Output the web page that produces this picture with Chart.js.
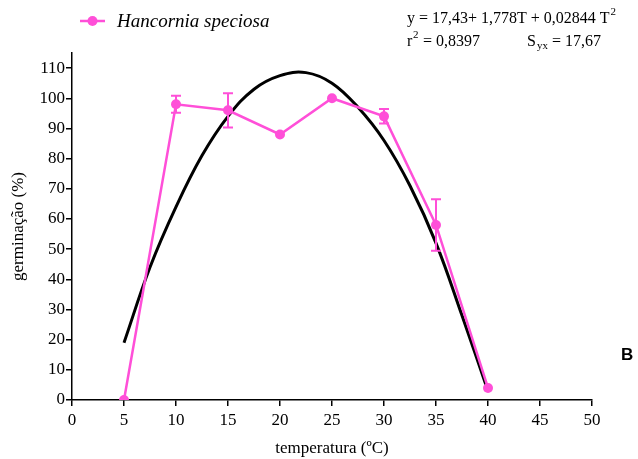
<!DOCTYPE html>
<html>
<head>
<meta charset="utf-8">
<script src="https://cdn.jsdelivr.net/npm/chart.js@4/dist/chart.umd.min.js"></script>
<style>
html,body{margin:0;padding:0;background:#fff;}
#wrap{position:relative;width:638px;height:459px;}
</style>
</head>
<body>
<div id="wrap"><canvas id="c" width="638" height="459"></canvas></div>
<script>
// Observed data
const temperatures = [5, 10, 15, 20, 25, 30, 35, 40];
const germination = [0, 98, 96, 88, 100, 94, 58, 4];
const errors = [0, 2.8, 5.7, 0, 0, 2.4, 8.5, 0];
// Fitted curve
const curveT = [5, 7.5, 10, 12.5, 15, 17.5, 20, 22.5, 25, 27.5, 30, 32.5, 35, 37.5, 40];
const curveY = [19, 44, 64, 81, 94, 103, 107.5, 108.5, 105, 97, 86, 71, 52, 28, 3];
const xTicks = [0, 5, 10, 15, 20, 25, 30, 35, 40, 45, 50];
const yTicks = [0, 10, 20, 30, 40, 50, 60, 70, 80, 90, 100, 110];

const PINK = '#ff4fd8';
const SERIF = '"Liberation Serif", "Times New Roman", serif';

const overlay = {
  id: 'overlay',
  afterDatasetsDraw(chart) {
    const ctx = chart.ctx;
    const xs = chart.scales.x, ys = chart.scales.y;
    ctx.save();
    ctx.strokeStyle = PINK;
    ctx.lineWidth = 2;
    temperatures.forEach((t, i) => {
      const e = errors[i];
      if (!e) return;
      const px = xs.getPixelForValue(t);
      const top = ys.getPixelForValue(germination[i] + e);
      const bot = ys.getPixelForValue(germination[i] - e);
      ctx.beginPath();
      ctx.moveTo(px, top); ctx.lineTo(px, bot);
      ctx.moveTo(px - 5, top); ctx.lineTo(px + 5, top);
      ctx.moveTo(px - 5, bot); ctx.lineTo(px + 5, bot);
      ctx.stroke();
    });
    ctx.restore();
  },
  afterDraw(chart) {
    const ctx = chart.ctx;
    ctx.save();
    // legend
    ctx.strokeStyle = PINK; ctx.lineWidth = 2.5;
    ctx.beginPath(); ctx.moveTo(80, 21); ctx.lineTo(105, 21); ctx.stroke();
    ctx.fillStyle = PINK;
    ctx.beginPath(); ctx.arc(92.5, 21, 5, 0, Math.PI * 2); ctx.fill();
    ctx.fillStyle = '#000';
    ctx.font = 'italic 19px ' + SERIF;
    ctx.textBaseline = 'middle';
    ctx.textAlign = 'left';
    ctx.fillText('Hancornia speciosa', 117, 22);
    // equation
    const eq = 'y = 17,43+ 1,778T + 0,02844 T';
    ctx.font = '16px ' + SERIF;
    ctx.fillText(eq, 407, 19);
    let w = ctx.measureText(eq).width;
    ctx.font = '11px ' + SERIF;
    ctx.fillText('2', 407 + w + 1, 12);
    ctx.font = '16px ' + SERIF;
    ctx.fillText('r', 407, 42);
    ctx.font = '11px ' + SERIF;
    ctx.fillText('2', 413, 35);
    ctx.font = '16px ' + SERIF;
    ctx.fillText(' = 0,8397', 419, 42);
    ctx.fillText('S', 527, 42);
    ctx.font = '11px ' + SERIF;
    ctx.fillText('yx', 537, 46);
    ctx.font = '16px ' + SERIF;
    ctx.fillText(' = 17,67', 548, 42);
    // panel letter
    ctx.font = 'bold 17px "Liberation Sans", Arial, sans-serif';
    ctx.fillText('B', 621, 355);
    ctx.restore();
  }
};

new Chart(document.getElementById('c'), {
  type: 'line',
  data: {
    datasets: [
      {
        label: 'fit',
        data: curveT.map((t, i) => ({x: t, y: curveY[i]})),
        borderColor: '#000',
        borderWidth: 3,
        pointRadius: 0,
        tension: 0.4,
        fill: false,
        order: 2
      },
      {
        label: 'Hancornia speciosa',
        data: temperatures.map((t, i) => ({x: t, y: germination[i]})),
        borderColor: PINK,
        backgroundColor: PINK,
        borderWidth: 2.5,
        pointRadius: 5,
        pointBorderWidth: 0,
        pointBackgroundColor: PINK,
        tension: 0,
        fill: false,
        order: 1
      }
    ]
  },
  options: {
    responsive: false,
    animation: false,
    events: [],
    layout: { padding: { left: 0, right: 46, top: 53, bottom: 0 } },
    plugins: { legend: { display: false }, tooltip: { enabled: false } },
    scales: {
      x: {
        type: 'linear', min: 0, max: 50,
        afterBuildTicks: s => { s.ticks = xTicks.map(v => ({value: v})); },
        afterFit: s => { s.height = 59; },
        grid: { display: true, drawOnChartArea: false, drawTicks: true, tickLength: 6, color: '#000', lineWidth: 1.5 },
        border: { display: true, color: '#000', width: 1.5 },
        ticks: { color: '#000', font: { family: SERIF, size: 17 }, padding: 4, maxRotation: 0 },
        title: { display: true, text: 'temperatura (ºC)', color: '#000', font: { family: SERIF, size: 17 }, padding: { top: 4, bottom: 0 } }
      },
      y: {
        type: 'linear', min: 0, max: 115,
        afterBuildTicks: s => { s.ticks = yTicks.map(v => ({value: v})); },
        afterFit: s => { s.width = 72; },
        grid: { display: true, drawOnChartArea: false, drawTicks: true, tickLength: 6, color: '#000', lineWidth: 1.5 },
        border: { display: true, color: '#000', width: 1.5 },
        ticks: { color: '#000', font: { family: SERIF, size: 17 }, padding: 1 },
        title: { display: true, text: 'germinação (%)', color: '#000', font: { family: SERIF, size: 17 }, padding: { top: 8, bottom: 0 } }
      }
    }
  },
  plugins: [overlay]
});
</script>
</body>
</html>
